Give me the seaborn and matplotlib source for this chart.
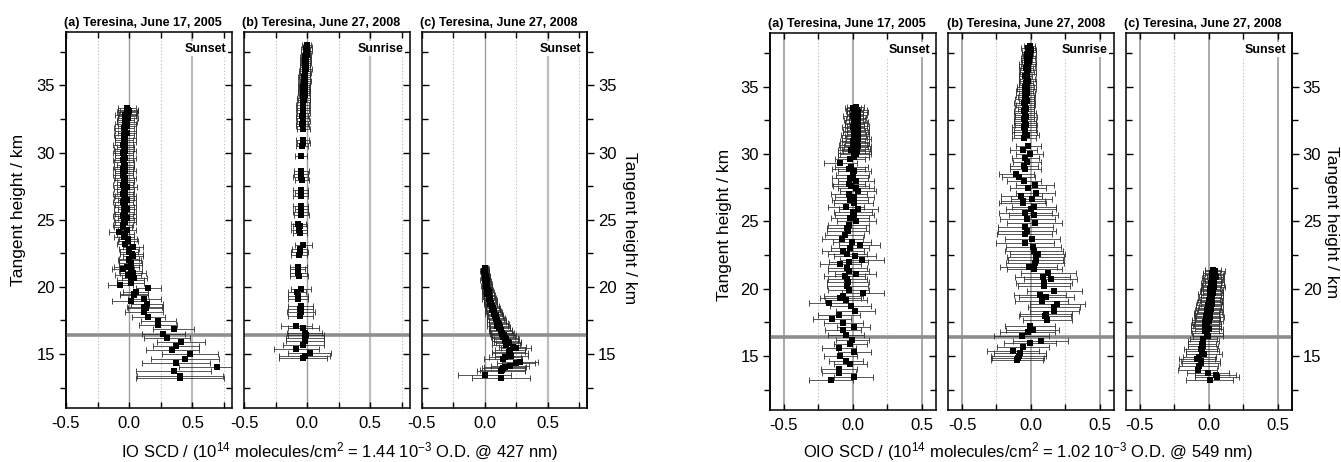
import numpy as np
import pandas as pd
import matplotlib
matplotlib.use("Agg")
import matplotlib.pyplot as plt
from matplotlib.ticker import FixedLocator, FormatStrFormatter
import seaborn as sns

# ---------------- data (tangent height km, SCD, error) ----------------
io_a_h = [33.3, 33.2, 33.1, 33.0, 32.9, 32.8, 32.7, 32.55, 32.4, 32.25, 32.1, 31.95, 31.8, 31.6,
          31.45, 31.3, 31.1, 30.95, 30.8, 30.6, 30.45, 30.3, 30.1, 29.95, 29.8, 29.6, 29.45, 29.3,
          29.1, 28.95, 28.8, 28.6, 28.45, 28.3, 28.1, 27.95, 27.8, 27.6, 27.45, 27.3, 27.1, 26.95,
          26.8, 26.6, 26.45, 26.3, 26.1, 25.95, 25.8, 25.6, 25.45, 25.3, 25.1, 24.95, 24.8, 24.6,
          24.45, 24.25, 24.08, 23.9, 23.71, 23.55, 23.42, 23.17, 22.97, 22.8, 22.6, 22.45, 22.28,
          22.1, 21.98, 21.8, 21.6, 21.45, 21.31, 21.17, 21.0, 20.87, 20.69, 20.5, 20.25, 20.12,
          19.88, 19.63, 19.5, 19.38, 19.08, 18.93, 18.69, 18.5, 18.39, 18.09, 17.77, 17.45, 17.15,
          16.83, 16.51, 16.21, 15.87, 15.57, 15.27, 14.98, 14.65, 14.33, 14.03, 13.74, 13.39, 13.24]
io_a_x = [-0.02, -0.01, 0.0, -0.02, -0.01, -0.03, -0.02, -0.01, -0.03, -0.02, -0.03, -0.02, -0.04, -0.03,
          -0.02, -0.04, -0.03, -0.04, -0.03, -0.05, -0.03, -0.04, -0.03, -0.05, -0.04, -0.03, -0.05, -0.04,
          -0.03, -0.04, -0.05, -0.03, -0.04, -0.05, -0.03, -0.04, -0.03, -0.05, -0.02, -0.04, -0.03, -0.05,
          -0.03, -0.04, -0.02, -0.05, -0.03, -0.04, -0.02, -0.04, -0.03, -0.05, -0.02, -0.04, -0.03, -0.05,
          -0.05, -0.02, -0.08, -0.03, -0.04, -0.01, -0.01, -0.03, 0.03, 0.0, 0.0, 0.02, 0.03,
          0.0, 0.0, 0.01, 0.01, -0.02, -0.05, 0.01, 0.03, -0.01, 0.04, 0.01, 0.01, -0.07,
          0.15, 0.05, 0.04, 0.04, 0.12, 0.01, 0.14, 0.12, 0.13, 0.12, 0.15, 0.23, 0.23,
          0.35, 0.27, 0.30, 0.41, 0.37, 0.34, 0.48, 0.44, 0.37, 0.69, 0.35, 0.40, 0.40]
io_a_e = [0.07, 0.08, 0.07, 0.08, 0.07, 0.08, 0.07, 0.08, 0.07, 0.08, 0.08, 0.07, 0.08, 0.08,
          0.07, 0.08, 0.08, 0.07, 0.08, 0.08, 0.07, 0.08, 0.08, 0.08, 0.07, 0.08, 0.08, 0.08,
          0.07, 0.08, 0.08, 0.08, 0.07, 0.08, 0.08, 0.08, 0.07, 0.08, 0.08, 0.08, 0.07, 0.08,
          0.08, 0.08, 0.07, 0.08, 0.08, 0.08, 0.07, 0.08, 0.08, 0.08, 0.07, 0.08, 0.08, 0.08,
          0.07, 0.07, 0.08, 0.07, 0.08, 0.07, 0.08, 0.07, 0.08, 0.08, 0.07, 0.09, 0.08,
          0.08, 0.09, 0.09, 0.09, 0.10, 0.09, 0.09, 0.10, 0.10, 0.10, 0.11, 0.11, 0.10,
          0.10, 0.10, 0.11, 0.11, 0.13, 0.15, 0.13, 0.14, 0.14, 0.15, 0.13, 0.14, 0.15,
          0.16, 0.17, 0.18, 0.19, 0.18, 0.21, 0.22, 0.27, 0.27, 0.30, 0.30, 0.34, 0.35]

io_b_h = [38.0, 37.85, 37.7, 37.55, 37.4, 37.25, 37.1, 36.95, 36.8, 36.65, 36.5, 36.35, 36.2, 36.05,
          35.9, 35.75, 35.6, 35.45, 35.3, 35.15, 35.0, 34.85, 34.7, 34.55, 34.4, 34.25, 34.1, 33.95,
          33.75, 33.55, 33.35, 33.15, 32.95, 32.75, 32.55, 32.35, 32.15, 31.95, 31.75,
          30.9, 30.7, 30.5, 29.75, 28.6, 28.4, 28.15, 27.95, 27.2, 27.0, 26.8, 26.0, 25.8, 25.6, 25.35,
          24.7, 24.5, 24.25, 24.0, 23.1, 22.85, 22.6, 22.35, 21.5, 21.3, 21.05, 20.8, 19.85, 19.6,
          19.35, 19.1, 18.6, 18.35, 18.1, 17.85, 17.1, 16.9, 16.6, 16.4, 16.2, 15.95, 15.65, 15.35,
          15.05, 14.85, 14.7]
io_b_x = [-0.005, 0.0, -0.01, 0.0, -0.01, -0.005, -0.015, -0.01, -0.02, -0.01, -0.015, -0.02, -0.01, -0.02,
          -0.015, -0.02, -0.025, -0.02, -0.015, -0.025, -0.02, -0.03, -0.02, -0.025, -0.03, -0.02, -0.03, -0.025,
          -0.03, -0.035, -0.03, -0.035, -0.03, -0.04, -0.035, -0.03, -0.04, -0.035, -0.03,
          -0.035, -0.03, -0.04, -0.05, -0.045, -0.05, -0.05, -0.04, -0.05, -0.045, -0.05, -0.05, -0.045, -0.05, -0.045,
          -0.07, -0.06, -0.065, -0.06, -0.03, -0.06, -0.06, -0.065, -0.07, -0.075, -0.07, -0.065, -0.05, -0.08,
          -0.07, -0.075, -0.05, -0.055, -0.05, -0.055, -0.085, -0.03, -0.02, -0.01, -0.02, -0.02, -0.03, -0.085,
          0.02, -0.02, -0.03]
io_b_e = [0.035, 0.035, 0.035, 0.035, 0.035, 0.035, 0.04, 0.04, 0.04, 0.04, 0.04, 0.04, 0.045, 0.045,
          0.045, 0.045, 0.045, 0.045, 0.045, 0.045, 0.045, 0.045, 0.045, 0.045, 0.045, 0.045, 0.05, 0.05,
          0.05, 0.05, 0.05, 0.05, 0.05, 0.05, 0.05, 0.05, 0.05, 0.05, 0.05,
          0.05, 0.05, 0.05, 0.045, 0.06, 0.055, 0.06, 0.055, 0.06, 0.055, 0.06, 0.06, 0.055, 0.06, 0.06,
          0.06, 0.055, 0.06, 0.055, 0.065, 0.06, 0.065, 0.06, 0.065, 0.06, 0.065, 0.07, 0.08, 0.07,
          0.08, 0.08, 0.10, 0.10, 0.11, 0.10, 0.12, 0.12, 0.14, 0.14, 0.15, 0.15, 0.16, 0.18,
          0.17, 0.20, 0.19]

io_c_h = [21.4, 21.3, 21.2, 21.1, 21.0, 20.9, 20.8, 20.7, 20.6, 20.5, 20.4, 20.3, 20.2, 20.1, 20.0,
          19.9, 19.8, 19.7, 19.6, 19.5, 19.4, 19.3, 19.2, 19.1, 19.0, 18.9, 18.8, 18.7, 18.6, 18.5,
          18.4, 18.3, 18.2, 18.1, 18.0, 17.9, 17.8, 17.7, 17.6, 17.5, 17.4, 17.3, 17.2, 17.1, 17.0,
          16.9, 16.8, 16.7, 16.6, 16.5, 16.4, 16.3, 16.2, 16.1, 16.0, 15.9, 15.8, 15.65, 15.55, 15.42,
          15.3, 15.15, 15.05, 14.87, 14.75, 14.6, 14.43, 14.3, 14.13, 14.0, 13.94, 13.8, 13.74, 13.44, 13.24]
io_c_x = [0.0, 0.005, -0.005, 0.0, 0.005, 0.0, 0.01, 0.005, 0.01, 0.0, 0.015, 0.01, 0.02, 0.01, 0.02,
          0.015, 0.025, 0.02, 0.03, 0.02, 0.035, 0.03, 0.04, 0.03, 0.045, 0.04, 0.05, 0.045, 0.06, 0.055,
          0.065, 0.06, 0.07, 0.075, 0.07, 0.085, 0.08, 0.09, 0.085, 0.10, 0.095, 0.105, 0.11, 0.10, 0.12,
          0.115, 0.13, 0.125, 0.14, 0.135, 0.15, 0.145, 0.16, 0.17, 0.16, 0.18, 0.19, 0.17, 0.22, 0.25,
          0.20, 0.19, 0.20, 0.21, 0.16, 0.145, 0.28, 0.25, 0.20, 0.16, 0.145, 0.14, 0.13, 0.0, 0.13]
io_c_e = [0.025, 0.025, 0.03, 0.03, 0.03, 0.03, 0.03, 0.035, 0.03, 0.035, 0.035, 0.035, 0.035, 0.04, 0.04,
          0.04, 0.04, 0.04, 0.045, 0.04, 0.045, 0.045, 0.045, 0.05, 0.05, 0.05, 0.05, 0.055, 0.05, 0.055,
          0.055, 0.06, 0.06, 0.06, 0.065, 0.06, 0.065, 0.07, 0.07, 0.07, 0.075, 0.075, 0.08, 0.08, 0.08,
          0.085, 0.085, 0.09, 0.09, 0.09, 0.095, 0.095, 0.10, 0.10, 0.10, 0.105, 0.10, 0.11, 0.11, 0.12,
          0.12, 0.13, 0.14, 0.13, 0.13, 0.15, 0.14, 0.15, 0.15, 0.17, 0.17, 0.18, 0.19, 0.21, 0.23]

oio_a_h = [33.5, 33.4, 33.3, 33.2, 33.1, 33.0, 32.9, 32.8, 32.7, 32.6, 32.5, 32.4, 32.3, 32.2, 32.1,
           32.0, 31.9, 31.8, 31.7, 31.6, 31.5, 31.4, 31.3, 31.2, 31.1, 31.0, 30.9, 30.8, 30.7, 30.6,
           30.5, 30.4, 30.3, 30.2, 30.1, 30.0, 29.8, 29.6, 29.31, 29.07, 28.9, 28.7, 28.45, 28.2, 28.0,
           27.8, 27.66, 27.45, 27.22, 27.02, 26.8, 26.6, 26.35, 26.1, 25.93, 25.7, 25.49, 25.25, 24.99,
           24.75, 24.5, 24.25, 23.95, 23.71, 23.46, 23.27, 23.05, 22.82, 22.6, 22.4, 22.15, 21.95, 21.83,
           21.54, 21.3, 21.1, 20.92, 20.7, 20.47, 20.17, 19.9, 19.68, 19.45, 19.31, 19.19, 18.94, 18.7,
           18.33, 18.08, 17.73, 17.44, 17.17, 16.9, 16.55, 16.2, 15.91, 15.61, 15.29, 15.0, 14.67, 14.38,
           14.06, 13.76, 13.46, 13.19]
oio_a_x = [0.02, 0.0, 0.03, 0.01, 0.04, 0.015, 0.03, 0.0, 0.035, 0.02, 0.005, 0.04, 0.02, 0.01, 0.035,
           0.0, 0.025, 0.04, 0.01, 0.02, 0.035, 0.005, 0.03, 0.015, 0.04, 0.0, 0.02, 0.03, 0.0, 0.035,
           0.01, 0.025, -0.01, 0.03, 0.005, 0.02, 0.005, -0.02, -0.09, -0.01, -0.03, 0.01, 0.0, -0.02, 0.025,
           -0.03, -0.015, 0.02, 0.04, -0.03, 0.01, -0.02, 0.005, -0.05, 0.04, 0.0, 0.01, -0.02, 0.025,
           -0.03, -0.045, -0.035, -0.06, -0.075, -0.005, 0.05, -0.02, -0.07, -0.04, 0.015, 0.065, -0.03, -0.09,
           -0.04, -0.03, 0.02, -0.06, -0.04, -0.035, -0.04, -0.03, 0.075, -0.07, -0.09, -0.05, -0.175, -0.015,
           0.017, -0.10, -0.15, -0.07, 0.007, -0.07, -0.05, -0.005, -0.02, -0.10, 0.01, -0.09, -0.05, -0.02,
           -0.10, -0.10, 0.005, -0.16]
oio_a_e = [0.06, 0.06, 0.07, 0.06, 0.07, 0.06, 0.07, 0.07, 0.06, 0.07, 0.07, 0.07, 0.08, 0.07, 0.08,
           0.08, 0.08, 0.08, 0.08, 0.09, 0.08, 0.09, 0.09, 0.09, 0.09, 0.09, 0.10, 0.09, 0.10, 0.10,
           0.10, 0.10, 0.10, 0.10, 0.11, 0.11, 0.11, 0.11, 0.12, 0.12, 0.12, 0.12, 0.12, 0.13, 0.13,
           0.12, 0.13, 0.13, 0.13, 0.13, 0.14, 0.13, 0.14, 0.13, 0.14, 0.14, 0.14, 0.14, 0.14,
           0.15, 0.14, 0.15, 0.14, 0.15, 0.14, 0.15, 0.14, 0.15, 0.14, 0.15, 0.16, 0.14, 0.15,
           0.14, 0.15, 0.15, 0.15, 0.14, 0.15, 0.15, 0.15, 0.15, 0.14, 0.15, 0.15, 0.14, 0.15,
           0.14, 0.15, 0.14, 0.14, 0.12, 0.13, 0.13, 0.12, 0.12, 0.12, 0.12, 0.12, 0.12, 0.12,
           0.13, 0.12, 0.14, 0.16]

oio_b_h = [38.0, 37.85, 37.7, 37.55, 37.4, 37.25, 37.1, 36.95, 36.8, 36.65, 36.5, 36.35, 36.2, 36.05,
           35.9, 35.75, 35.6, 35.45, 35.3, 35.15, 35.0, 34.85, 34.7, 34.55, 34.4, 34.25, 34.1, 33.95,
           33.8, 33.65, 33.5, 33.35, 33.2, 33.05, 32.9, 32.75, 32.6, 32.45, 32.3, 32.15, 32.0, 31.8,
           31.6, 31.4, 31.2, 30.6, 30.3, 29.97, 29.7, 29.4, 29.1, 28.86, 28.49, 28.3, 28.0, 27.7, 27.5,
           27.08, 26.88, 26.64, 26.5, 26.34, 26.09, 25.9, 25.65, 25.48, 25.15, 24.86, 24.61, 24.3, 24.04,
           23.67, 23.38, 23.1, 22.81, 22.61, 22.39, 22.14, 21.9, 21.62, 21.45, 21.2, 20.86, 20.71, 20.41,
           20.17, 19.8, 19.52, 19.35, 19.1, 18.86, 18.61, 18.36, 18.12, 17.94, 17.7, 17.25, 16.96, 16.76,
           16.46, 16.14, 15.94, 15.65, 15.4, 15.23, 15.03, 14.83, 14.71]
oio_b_x = [-0.01, -0.02, 0.0, -0.015, -0.025, -0.01, -0.02, -0.03, -0.015, -0.025, -0.02, -0.035, -0.02, -0.03,
           -0.025, -0.04, -0.03, -0.02, -0.035, -0.025, -0.04, -0.03, -0.045, -0.03, -0.04, -0.035, -0.045, -0.03,
           -0.05, -0.04, -0.045, -0.035, -0.05, -0.04, -0.045, -0.035, -0.05, -0.04, -0.045, -0.035, -0.05, -0.04,
           -0.045, -0.03, -0.05, -0.02, -0.055, -0.01, -0.04, -0.03, -0.05, -0.04, -0.105, -0.09, -0.05, 0.03, -0.02,
           0.035, -0.07, 0.005, -0.055, -0.06, 0.025, 0.0, -0.04, 0.02, -0.025, 0.027, -0.04, -0.03, -0.045,
           0.01, -0.045, 0.017, 0.024, 0.05, 0.034, 0.034, 0.03, -0.017, 0.024, 0.125, 0.087, 0.143, 0.095,
           0.097, 0.17, 0.066, 0.11, 0.078, 0.19, 0.17, 0.17, 0.11, 0.10, 0.12, -0.007, 0.012, -0.024,
           -0.065, 0.07, -0.005, -0.056, -0.13, -0.08, -0.087, -0.092, -0.10]
oio_b_e = [0.04, 0.05, 0.04, 0.05, 0.04, 0.05, 0.05, 0.04, 0.05, 0.06, 0.05, 0.05, 0.06, 0.05,
           0.06, 0.05, 0.06, 0.06, 0.05, 0.06, 0.06, 0.07, 0.06, 0.06, 0.07, 0.06, 0.07, 0.06,
           0.07, 0.07, 0.07, 0.06, 0.07, 0.08, 0.07, 0.08, 0.07, 0.08, 0.08, 0.08, 0.09, 0.08,
           0.09, 0.09, 0.09, 0.09, 0.10, 0.10, 0.10, 0.10, 0.10, 0.11, 0.13, 0.12, 0.12, 0.14, 0.13,
           0.14, 0.15, 0.15, 0.16, 0.17, 0.16, 0.18, 0.19, 0.18, 0.20, 0.20, 0.20, 0.21, 0.20,
           0.20, 0.21, 0.20, 0.21, 0.20, 0.21, 0.20, 0.21, 0.21, 0.20, 0.20, 0.20, 0.19, 0.20,
           0.19, 0.20, 0.19, 0.20, 0.19, 0.20, 0.19, 0.18, 0.19, 0.19, 0.18, 0.18, 0.19, 0.20,
           0.20, 0.20, 0.19, 0.19, 0.19, 0.19, 0.20, 0.19, 0.19]

oio_c_h = [21.4, 21.3, 21.2, 21.1, 21.0, 20.9, 20.8, 20.7, 20.6, 20.5, 20.4, 20.3, 20.2, 20.1, 20.0,
           19.9, 19.8, 19.7, 19.6, 19.5, 19.4, 19.3, 19.2, 19.1, 19.0, 18.9, 18.8, 18.7, 18.6, 18.5,
           18.4, 18.3, 18.2, 18.1, 18.0, 17.9, 17.8, 17.7, 17.6, 17.5, 17.4, 17.3, 17.2, 17.1, 17.0,
           16.85, 16.7, 16.48, 16.3, 16.1, 15.9, 15.74, 15.55, 15.37, 15.12, 14.95, 14.75, 14.6, 14.5,
           14.26, 14.0, 13.77, 13.6, 13.44, 13.22]
oio_c_x = [0.03, 0.045, 0.02, 0.04, 0.03, 0.05, 0.02, 0.035, 0.025, 0.04, 0.015, 0.03, 0.02, 0.035, 0.01,
           0.025, 0.015, 0.03, 0.005, 0.02, 0.01, 0.025, 0.0, 0.015, 0.005, 0.02, -0.005, 0.01, 0.0, 0.015,
           -0.01, 0.005, -0.015, 0.0, -0.02, 0.01, -0.01, -0.02, 0.0, -0.025, -0.01, -0.03, -0.015, -0.02, 0.0,
           -0.03, -0.01, -0.007, -0.04, -0.039, -0.05, -0.044, -0.06, -0.049, -0.032, -0.07, -0.087, -0.06, -0.056,
           -0.073, -0.08, -0.007, 0.05, 0.058, 0.005]
oio_c_e = [0.06, 0.07, 0.06, 0.07, 0.07, 0.06, 0.07, 0.07, 0.07, 0.07, 0.07, 0.08, 0.07, 0.08, 0.07,
           0.08, 0.08, 0.07, 0.08, 0.08, 0.08, 0.08, 0.08, 0.08, 0.09, 0.08, 0.09, 0.08, 0.09, 0.09,
           0.09, 0.09, 0.09, 0.10, 0.09, 0.10, 0.09, 0.10, 0.10, 0.10, 0.10, 0.10, 0.10, 0.11, 0.10,
           0.10, 0.11, 0.11, 0.10, 0.11, 0.10, 0.11, 0.12, 0.12, 0.13, 0.12, 0.13, 0.14, 0.14,
           0.14, 0.14, 0.15, 0.15, 0.16, 0.17]

panel_titles = ["(a) Teresina, June 17, 2005", "(b) Teresina, June 27, 2008", "(c) Teresina, June 27, 2008"]
panel_events = ["Sunset", "Sunrise", "Sunset"]
tropopause_km = 16.45
io_xlabel = r"IO SCD / (10$^{14}$ molecules/cm$^{2}$ = 1.44 10$^{-3}$ O.D. @ 427 nm)"
oio_xlabel = r"OIO SCD / (10$^{14}$ molecules/cm$^{2}$ = 1.02 10$^{-3}$ O.D. @ 549 nm)"
ylabel_text = "Tangent height / km"

# ---------------- style ----------------
sns.set_theme(style="ticks")
plt.rcParams['font.family'] = ['Liberation Sans', 'DejaVu Sans']
plt.rcParams['mathtext.fontset'] = 'custom'
plt.rcParams['mathtext.rm'] = 'Liberation Sans'
plt.rcParams['mathtext.it'] = 'Liberation Sans'
plt.rcParams['axes.unicode_minus'] = False
for k in ['text.color', 'axes.labelcolor', 'xtick.color', 'ytick.color', 'axes.edgecolor']:
    plt.rcParams[k] = 'black'

W, H = 1341, 462
fig = plt.figure(figsize=(W / 100, H / 100), dpi=100)

def box(l, r, t, b):
    return [l / W, 1 - b / H, (r - l) / W, (b - t) / H]

io_boxes = [box(66, 231.7, 31.7, 407.7), box(244, 409.5, 31.7, 407.7), box(421.7, 587, 31.7, 407.7)]
oio_boxes = [box(770, 935.7, 32.7, 410), box(948.3, 1113.5, 32.7, 410), box(1126, 1291.7, 32.7, 410)]

groups = [
    (io_boxes, (-0.5, 0.81), [-0.5, 0.0, 0.5], [-0.25, 0.25, 0.75],
     [(0.0, '#9c9c9c', 1.0), (0.5, '#bdbdbd', 1.6)], [-0.25, 0.25, 0.75],
     [(io_a_h, io_a_x, io_a_e), (io_b_h, io_b_x, io_b_e), (io_c_h, io_c_x, io_c_e)]),
    (oio_boxes, (-0.6, 0.6), [-0.5, 0.0, 0.5], [-0.25, 0.25],
     [(-0.5, '#a8a8a8', 1.4), (0.0, '#9c9c9c', 1.2), (0.5, '#a8a8a8', 1.4)], [-0.25, 0.25],
     [(oio_a_h, oio_a_x, oio_a_e), (oio_b_h, oio_b_x, oio_b_e), (oio_c_h, oio_c_x, oio_c_e)]),
]

tick_fs = 12
for boxes, xlim, xmaj, xmin, solid, dotted, series in groups:
    for i, (bx, (hh, xx, ee)) in enumerate(zip(boxes, series)):
        ax = fig.add_axes(bx)
        df = pd.DataFrame({"h": hh, "scd": xx, "err": ee})
        for xv in dotted:
            ax.axvline(xv, color='#b8b8b8', lw=0.8, ls=(0, (1, 2)), zorder=0)
        for xv, c, lw in solid:
            ax.axvline(xv, color=c, lw=lw, zorder=0)
        ax.axhline(tropopause_km, color='#8e8e8e', lw=2.6, zorder=1)
        ax.errorbar(df["scd"], df["h"], xerr=df["err"], fmt='none', ecolor='#2a2a2a',
                    elinewidth=0.55, capsize=2.3, capthick=0.6, zorder=2)
        sns.scatterplot(data=df, x="scd", y="h", ax=ax, marker='s', color='black',
                        s=15, linewidth=0, zorder=3, legend=False)
        ax.set_xlim(*xlim)
        ax.set_ylim(11, 39)
        ax.set_xlabel("")
        ax.set_ylabel("")
        ax.xaxis.set_major_locator(FixedLocator(xmaj))
        ax.xaxis.set_minor_locator(FixedLocator(xmin))
        ax.xaxis.set_major_formatter(FormatStrFormatter('%.1f'))
        ax.yaxis.set_major_locator(FixedLocator([15, 20, 25, 30, 35]))
        ax.yaxis.set_minor_locator(FixedLocator([12.5, 17.5, 22.5, 27.5, 32.5, 37.5]))
        ax.tick_params(axis='x', which='both', direction='in', top=True, bottom=True,
                       labelsize=tick_fs, width=1.0, pad=6)
        ax.tick_params(axis='x', which='major', length=4)
        ax.tick_params(axis='x', which='minor', length=4)
        for sp in ax.spines.values():
            sp.set_linewidth(1.1)
            sp.set_color('black')
        if i == 0:
            ax.tick_params(axis='y', which='both', direction='in', left=False, right=True,
                           labelleft=False, labelright=False, width=1.0)
            sec = ax.secondary_yaxis('left')
        elif i == 1:
            ax.tick_params(axis='y', which='both', direction='in', left=True, right=True,
                           labelleft=False, labelright=False, width=1.0)
            sec = None
        else:
            ax.tick_params(axis='y', which='both', direction='in', left=True, right=False,
                           labelleft=False, labelright=False, width=1.0)
            sec = ax.secondary_yaxis('right')
        ax.tick_params(axis='y', which='major', length=5)
        ax.tick_params(axis='y', which='minor', length=4)
        if sec is not None:
            sec.yaxis.set_major_locator(FixedLocator([15, 20, 25, 30, 35]))
            sec.yaxis.set_minor_locator(FixedLocator([12.5, 17.5, 22.5, 27.5, 32.5, 37.5]))
            sec.tick_params(axis='y', which='both', direction='out', labelsize=tick_fs, width=1.0,
                            pad=3, colors='black')
            sec.tick_params(axis='y', which='major', length=5)
            sec.tick_params(axis='y', which='minor', length=4)
            sec.spines[:].set_linewidth(1.1)
            sec.spines[:].set_color('black')
        ax.set_title(panel_titles[i], loc='left', fontsize=9, fontweight='bold', pad=4, x=-0.01,
                     color='black')
        ax.text(0.965, 0.955, panel_events[i], transform=ax.transAxes, ha='right', va='center',
                fontsize=9, fontweight='bold', zorder=5, color='black',
                bbox=dict(facecolor='white', edgecolor='none', pad=1.2))

fig.text(340 / W, 1 - 452 / H, io_xlabel, ha='center', va='center', fontsize=12)
fig.text(1028 / W, 1 - 452 / H, oio_xlabel, ha='center', va='center', fontsize=12)
fig.text(19 / W, 1 - 210 / H, ylabel_text, rotation=90, ha='center', va='center', fontsize=12.5)
fig.text(725 / W, 1 - 225 / H, ylabel_text, rotation=90, ha='center', va='center', fontsize=12.5)
fig.text(629 / W, 1 - 228 / H, ylabel_text, rotation=270, ha='center', va='center', fontsize=12.5)
fig.text(1332 / W, 1 - 222 / H, ylabel_text, rotation=270, ha='center', va='center', fontsize=12.5)

fig.savefig("out.png", dpi=100)
